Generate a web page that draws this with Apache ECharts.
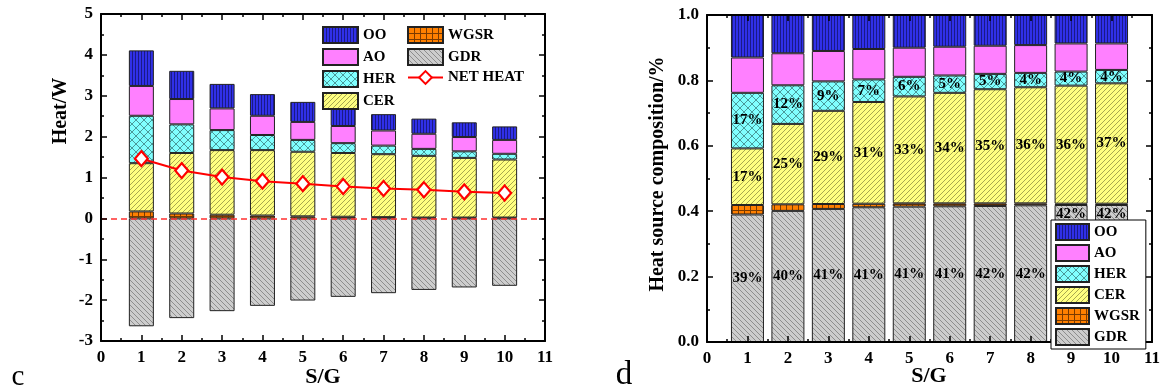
<!DOCTYPE html>
<html><head><meta charset="utf-8">
<script src="https://cdn.jsdelivr.net/npm/echarts@6/dist/echarts.min.js"></script>
<style>html,body{margin:0;padding:0;background:#fff}#c{width:1168px;height:392px}</style>
</head><body><div id="c"></div>
<script>
// ---------- data ----------
const sg = [1, 2, 3, 4, 5, 6, 7, 8, 9, 10];
const xCats = ['0', '1', '2', '3', '4', '5', '6', '7', '8', '9', '10', '11'];
// (c) heat, W (stack segments)
const heatWGSR = [0.17, 0.12, 0.09, 0.07, 0.05, 0.04, 0.03, 0.02, 0.02, 0.02];
const heatCER  = [1.18, 1.48, 1.58, 1.60, 1.58, 1.56, 1.54, 1.51, 1.46, 1.42];
const heatHER  = [1.16, 0.70, 0.49, 0.37, 0.29, 0.24, 0.21, 0.17, 0.16, 0.14];
const heatAO   = [0.73, 0.62, 0.53, 0.47, 0.44, 0.42, 0.37, 0.37, 0.35, 0.34];
const heatOO   = [0.87, 0.69, 0.60, 0.53, 0.49, 0.44, 0.40, 0.37, 0.36, 0.33];
const heatGDR  = [-2.64, -2.44, -2.27, -2.14, -2.01, -1.92, -1.83, -1.75, -1.69, -1.65];
const netHeat  = [1.46, 1.17, 1.01, 0.91, 0.85, 0.78, 0.73, 0.70, 0.65, 0.62];
// (d) heat source composition (fractions)
const fracGDR  = [0.390, 0.401, 0.407, 0.412, 0.414, 0.415, 0.416, 0.418, 0.419, 0.419];
const fracWGSR = [0.029, 0.020, 0.015, 0.011, 0.010, 0.009, 0.008, 0.006, 0.004, 0.004];
const fracCER  = [0.173, 0.246, 0.285, 0.311, 0.327, 0.338, 0.349, 0.355, 0.361, 0.368];
const fracHER  = [0.170, 0.118, 0.090, 0.069, 0.060, 0.053, 0.047, 0.044, 0.043, 0.041];
const fracAO   = [0.108, 0.098, 0.093, 0.093, 0.089, 0.088, 0.086, 0.085, 0.086, 0.081];
const fracOO   = [0.130, 0.117, 0.110, 0.104, 0.100, 0.097, 0.094, 0.092, 0.087, 0.087];
const lblGDR = ['39%', '40%', '41%', '41%', '41%', '41%', '42%', '42%', '42%', '42%'];
const lblCER = ['17%', '25%', '29%', '31%', '33%', '34%', '35%', '36%', '36%', '37%'];
const lblHER = ['17%', '12%', '9%', '7%', '6%', '5%', '5%', '4%', '4%', '4%'];
const legendLeftA = ['OO', 'AO', 'HER', 'CER'];
const legendLeftB = ['WGSR', 'GDR', 'NET HEAT'];
const legendRight = ['OO', 'AO', 'HER', 'CER', 'WGSR', 'GDR'];

// ---------- styles ----------
const SERIF = '"Liberation Serif", "Times New Roman", serif';
function pat(w, h, bg, fn) {
  const c = document.createElement('canvas'); c.width = w; c.height = h;
  const g = c.getContext('2d'); g.fillStyle = bg; g.fillRect(0, 0, w, h);
  fn(g, w, h); return { image: c, repeat: 'repeat' };
}
function ln(g, x1, y1, x2, y2, col, lw) {
  g.strokeStyle = col; g.lineWidth = lw || 1; g.beginPath(); g.moveTo(x1, y1); g.lineTo(x2, y2); g.stroke();
}
function fwd(g, s, col) { ln(g, -1, s + 1, s + 1, -1, col); ln(g, -1, 1, 1, -1, col); ln(g, s - 1, s + 1, s + 1, s - 1, col); }
function bwd(g, s, col) { ln(g, -1, -1, s + 1, s + 1, col); ln(g, s - 1, -1, s + 1, 1, col); ln(g, -1, s - 1, 1, s + 1, col); }
const C = {
  OO: pat(3, 3, '#3030e8', g => { g.fillStyle = '#1a1a86'; g.fillRect(0, 0, 1, 3); }),
  AO: '#ff80ff',
  HER: pat(8, 8, '#80ffff', (g, w) => { fwd(g, w, '#4a9a9a'); bwd(g, w, '#4a9a9a'); }),
  CER: pat(5, 5, '#ffff80', (g, w) => fwd(g, w, '#a8a850')),
  WGSR: pat(6, 6, '#ff8000', g => { g.fillStyle = '#7a3a00'; g.fillRect(0, 0, 1, 6); g.fillRect(0, 0, 6, 1); }),
  GDR: pat(5, 5, '#cdcdcd', (g, w) => bwd(g, w, '#8e8e8e'))
};
function pts(a) { return sg.map((x, i) => [x, a[i]]); }
// map a per-S/G array onto the 0..11 category slots
function slots(a, mk) {
  return xCats.map(c => { const i = sg.indexOf(+c); return i < 0 ? '-' : (mk ? mk(a[i], i) : a[i]); });
}
const border = { borderColor: '#222', borderWidth: 1 };
const labFont = { fontFamily: SERIF, fontWeight: 'bold', fontSize: 15, color: '#000' };

function leftBar(name, arr) {
  return { name, type: 'bar', stack: 'c', barWidth: 25, xAxisIndex: 4, yAxisIndex: 0,
    itemStyle: Object.assign({ color: C[name] }, border), data: slots(arr), z: 3 };
}
function rightBar(name, arr, labels, topIdx) {
  return { name, type: 'bar', stack: 'd', barWidth: 33, xAxisIndex: 5, yAxisIndex: 2,
    itemStyle: Object.assign({ color: C[name] }, border), z: 3,
    data: slots(arr, (v, i) => {
      const d = { value: v };
      if (labels) {
        d.label = Object.assign({ show: true, formatter: labels[i],
          position: (topIdx && topIdx.indexOf(i) >= 0) ? 'insideTop' : 'inside', distance: 2 }, labFont);
      }
      return d;
    }) };
}

function axisBase(extra) {
  return Object.assign({
    type: 'value', z: 6,
    axisLine: { show: true, onZero: false, lineStyle: { color: '#000', width: 2 } },
    axisTick: { show: true, inside: true, length: 6, lineStyle: { color: '#000', width: 1.5 } },
    minorTick: { show: true, splitNumber: 2, length: 3, lineStyle: { color: '#000', width: 1.5 } },
    splitLine: { show: false }, minorSplitLine: { show: false },
    axisLabel: { show: true, fontFamily: SERIF, fontWeight: 'bold', fontSize: 17, color: '#000', margin: 8 }
  }, extra);
}
function noLab(o) { o.axisLabel = { show: false }; return o; }
function catAxis(grid) {
  return { type: 'category', gridIndex: grid, data: xCats, boundaryGap: false, show: false };
}

const legendText = { fontFamily: SERIF, fontWeight: 'bold', fontSize: 15, color: '#000' };
function legItems(names) { return names.map(n => n === 'NET HEAT' ? { name: n } : { name: n, icon: 'rect' }); }

const option = {
  animation: false,
  backgroundColor: '#fff',
  grid: [
    { left: 101, right: 623, top: 14, bottom: 51, outerBoundsMode: 'none' },
    { left: 707, right: 16, top: 15, bottom: 50, outerBoundsMode: 'none' }
  ],
  xAxis: [
    axisBase({ gridIndex: 0, min: 0, max: 11, interval: 1, position: 'bottom' }),
    noLab(axisBase({ gridIndex: 0, min: 0, max: 11, interval: 1, position: 'top' })),
    axisBase({ gridIndex: 1, min: 0, max: 11, interval: 1, position: 'bottom' }),
    noLab(axisBase({ gridIndex: 1, min: 0, max: 11, interval: 1, position: 'top' })),
    catAxis(0),
    catAxis(1)
  ],
  yAxis: [
    axisBase({ gridIndex: 0, min: -3, max: 5, interval: 1, position: 'left' }),
    noLab(axisBase({ gridIndex: 0, min: -3, max: 5, interval: 1, position: 'right' })),
    axisBase({ gridIndex: 1, min: 0, max: 1, interval: 0.2, position: 'left',
      axisLabel: { show: true, fontFamily: SERIF, fontWeight: 'bold', fontSize: 17, color: '#000', margin: 8,
        formatter: v => v.toFixed(1) } }),
    noLab(axisBase({ gridIndex: 1, min: 0, max: 1, interval: 0.2, position: 'right' }))
  ],
  legend: [
    { data: legItems(legendLeftA), orient: 'vertical', left: 322, top: 26, itemWidth: 35, itemHeight: 16, itemGap: 4,
      padding: 0, selectedMode: false, textStyle: legendText },
    { data: legItems(legendLeftB), orient: 'vertical', left: 407, top: 26, itemWidth: 35, itemHeight: 16, itemGap: 4,
      padding: 0, selectedMode: false, textStyle: legendText },
    { data: legItems(legendRight), orient: 'vertical', left: 1051, top: 220, itemWidth: 33, itemHeight: 16, itemGap: 3,
      padding: [3, 6, 3, 4], selectedMode: false, backgroundColor: '#fff', borderColor: '#000', borderWidth: 1,
      textStyle: legendText, z: 10 }
  ],
  series: [
    leftBar('WGSR', heatWGSR),
    leftBar('CER', heatCER),
    leftBar('HER', heatHER),
    leftBar('AO', heatAO),
    leftBar('OO', heatOO),
    leftBar('GDR', heatGDR),
    { name: 'zero', type: 'line', xAxisIndex: 0, yAxisIndex: 0, data: [], z: 1, silent: true,
      markLine: { silent: true, symbol: 'none', label: { show: false },
        lineStyle: { color: '#ff3030', type: [6, 4], width: 1.5 }, data: [{ yAxis: 0 }] } },
    { name: 'NET HEAT', type: 'line', xAxisIndex: 0, yAxisIndex: 0, data: pts(netHeat), z: 5,
      symbol: 'diamond', symbolSize: [13, 15], showSymbol: true,
      itemStyle: { color: '#fff', borderColor: '#ff0000', borderWidth: 2.2 },
      lineStyle: { color: '#ff0000', width: 2 } },
    rightBar('GDR', fracGDR, lblGDR, [8, 9]),
    rightBar('WGSR', fracWGSR),
    rightBar('CER', fracCER, lblCER),
    rightBar('HER', fracHER, lblHER),
    rightBar('AO', fracAO),
    rightBar('OO', fracOO)
  ],
  graphic: [
    { type: 'text', x: 61, y: 111, rotation: Math.PI / 2,
      style: { text: 'Heat/W', font: 'bold 20px ' + SERIF, fill: '#000', align: 'center', verticalAlign: 'middle' } },
    { type: 'text', x: 658, y: 174, rotation: Math.PI / 2,
      style: { text: 'Heat source composition/%', font: 'bold 20px ' + SERIF, fill: '#000', align: 'center', verticalAlign: 'middle' } },
    { type: 'text', x: 323, y: 377,
      style: { text: 'S/G', font: 'bold 22px ' + SERIF, fill: '#000', align: 'center', verticalAlign: 'middle' } },
    { type: 'text', x: 929, y: 376,
      style: { text: 'S/G', font: 'bold 22px ' + SERIF, fill: '#000', align: 'center', verticalAlign: 'middle' } },
    { type: 'text', x: 18, y: 377,
      style: { text: 'c', font: '29px ' + SERIF, fill: '#000', align: 'center', verticalAlign: 'middle' } },
    { type: 'text', x: 624, y: 375,
      style: { text: 'd', font: '33px ' + SERIF, fill: '#000', align: 'center', verticalAlign: 'middle' } }
  ]
};
const chart = echarts.init(document.getElementById('c'), null, { renderer: 'canvas' });
chart.setOption(option);
</script>
</body></html>
